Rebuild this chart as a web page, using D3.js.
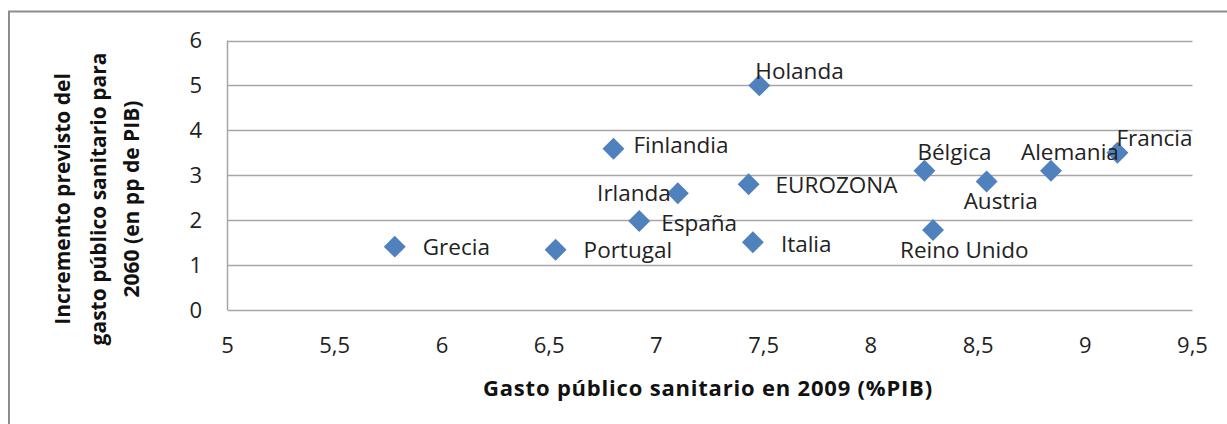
<!DOCTYPE html>
<html>
<head>
<meta charset="utf-8">
<script src="https://cdn.jsdelivr.net/npm/d3@7"></script>
<style>
  body { margin: 0; background: #fff; }
  svg { display: block; font-family: "Open Sans", sans-serif; }
</style>
</head>
<body>
<div id="chart"></div>
<script>
// datos
var paises = ["Grecia", "Portugal", "Finlandia", "España", "Irlanda", "EUROZONA", "Italia",
              "Holanda", "Bélgica", "Reino Unido", "Austria", "Alemania", "Francia"];
var gasto2009 = [5.78, 6.53, 6.80, 6.92, 7.10, 7.43, 7.45, 7.48, 8.25, 8.29, 8.54, 8.84, 9.15];
var incremento2060 = [1.41, 1.34, 3.59, 1.98, 2.60, 2.80, 1.51, 5.00, 3.10, 1.78, 2.86, 3.10, 3.50];
var xTicks = [5, 5.5, 6, 6.5, 7, 7.5, 8, 8.5, 9, 9.5];
var yTicks = [0, 1, 2, 3, 4, 5, 6];
var xTitulo = "Gasto público sanitario en 2009 (%PIB)";
var yTitulo = ["Incremento previsto del", "gasto público sanitario para", "2060 (en pp de PIB)"];

var width = 1227, height = 424;
var fmt = d => String(d).replace(".", ",");

// colocacion de etiquetas (como la pone Excel)
var etiq = {
  "Grecia": [28, 0], "Portugal": [28, 0], "Finlandia": [20, -4], "España": [22, 2],
  "Irlanda": [-7, 0, "end"], "EUROZONA": [27, 1], "Italia": [28, 2], "Holanda": [-4, -15],
  "Bélgica": [-7, -19], "Reino Unido": [-33, 20], "Austria": [-23, 19], "Alemania": [-30, -19],
  "Francia": [-1, -15]
};

var svg = d3.select("#chart").append("svg")
    .attr("width", width)
    .attr("height", height);

svg.append("rect").attr("width", width).attr("height", height).attr("fill", "#fff");

// borde del area del grafico
svg.append("path")
    .attr("d", "M9,424V11.5H1227")
    .attr("fill", "none")
    .attr("stroke", "#8c8c8c")
    .attr("stroke-width", 2);

var x = d3.scaleLinear().domain([5, 9.5]).range([227.5, 1192.5]);
var y = d3.scaleLinear().domain([0, 6]).range([310, 40.5]);

// lineas de division
svg.append("g")
    .selectAll("line")
    .data(yTicks)
    .join("line")
    .attr("x1", x(5)).attr("x2", x(9.5))
    .attr("y1", d => Math.round(y(d)) + 0.5)
    .attr("y2", d => Math.round(y(d)) + 0.5)
    .attr("stroke", "#a6a6a6")
    .attr("stroke-width", 1.5);

svg.append("line")
    .attr("x1", x(5)).attr("x2", x(5))
    .attr("y1", y(6)).attr("y2", y(0))
    .attr("stroke", "#a6a6a6")
    .attr("stroke-width", 1.5);

// etiquetas de ejes
svg.append("g")
    .selectAll("text")
    .data(yTicks)
    .join("text")
    .attr("x", 202)
    .attr("y", d => y(d))
    .attr("dy", "0.36em")
    .attr("text-anchor", "end")
    .attr("font-size", 22)
    .attr("fill", "#222")
    .text(fmt);

svg.append("g")
    .selectAll("text")
    .data(xTicks)
    .join("text")
    .attr("x", d => x(d))
    .attr("y", 345)
    .attr("dy", "0.36em")
    .attr("text-anchor", "middle")
    .attr("font-size", 22)
    .attr("fill", "#222")
    .text(fmt);

// titulos
svg.append("text")
    .attr("x", 708)
    .attr("y", 388)
    .attr("dy", "0.36em")
    .attr("text-anchor", "middle")
    .attr("font-size", 22)
    .attr("letter-spacing", 0.8)
    .attr("font-weight", "bold")
    .attr("fill", "#111")
    .text(xTitulo);

svg.append("g")
    .attr("transform", "translate(0,199) rotate(-90)")
    .selectAll("text")
    .data(yTitulo)
    .join("text")
    .attr("x", 0)
    .attr("y", (d, i) => [62, 98, 131][i])
    .attr("dy", "0.36em")
    .attr("text-anchor", "middle")
    .attr("font-size", 21)
    .attr("font-weight", "bold")
    .attr("fill", "#111")
    .text(d => d);

// puntos
var puntos = paises.map((p, i) => ({nombre: p, gx: gasto2009[i], iy: incremento2060[i]}));

var rombo = d3.symbol().type(d3.symbolSquare).size(240);

svg.append("g")
    .selectAll("path")
    .data(puntos)
    .join("path")
    .attr("d", rombo)
    .attr("transform", d => `translate(${x(d.gx)},${y(d.iy)}) rotate(45)`)
    .attr("fill", "#4f81bd");

svg.append("g")
    .selectAll("text")
    .data(puntos)
    .join("text")
    .attr("x", d => x(d.gx) + etiq[d.nombre][0])
    .attr("y", d => y(d.iy) + etiq[d.nombre][1])
    .attr("dy", "0.36em")
    .attr("text-anchor", d => etiq[d.nombre][2] || "start")
    .attr("font-size", 22.5)
    .attr("fill", "#222")
    .text(d => d.nombre);
</script>
</body>
</html>
